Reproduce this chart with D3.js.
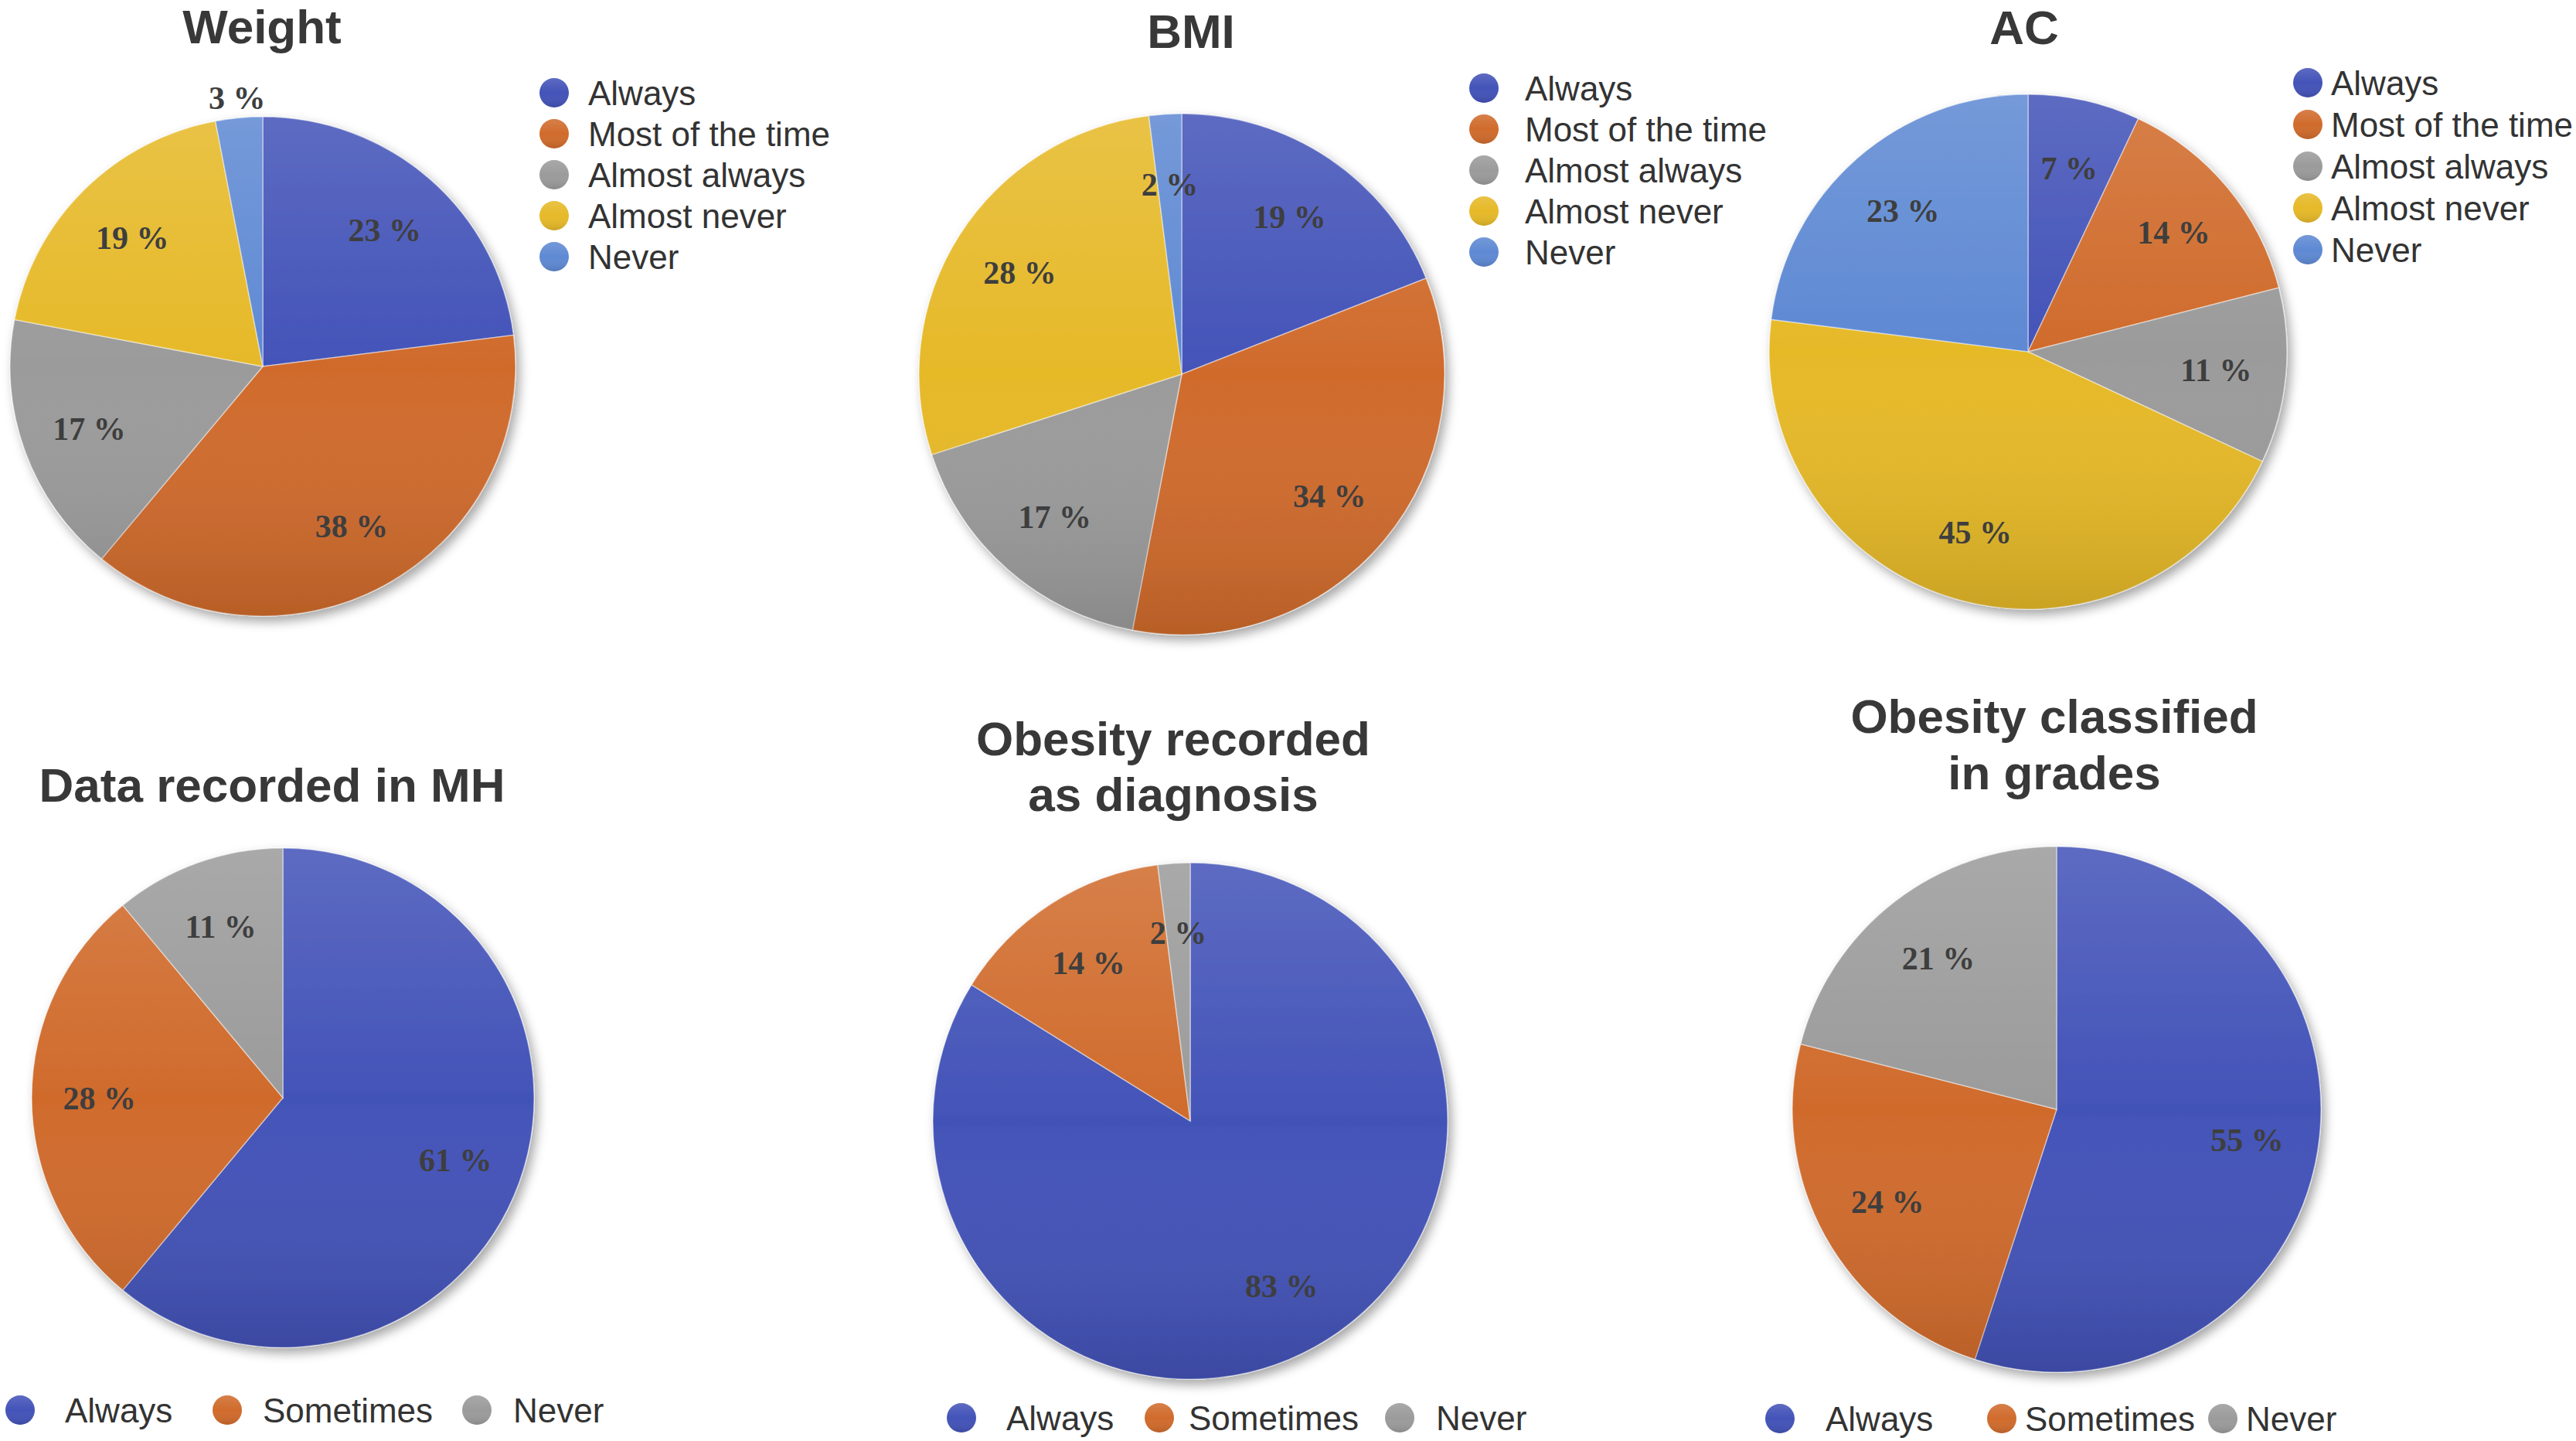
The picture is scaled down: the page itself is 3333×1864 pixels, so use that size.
<!DOCTYPE html>
<html>
<head>
<meta charset="utf-8">
<script src="https://cdn.jsdelivr.net/npm/d3@7"></script>
<style>
  body { margin: 0; background: #fff; }
</style>
</head>
<body>
<script>
// canvas size
const w = 3333;
const h = 1864;

// categories of the two kinds of legend
const fiveCategories = ['Always', 'Most of the time', 'Almost always', 'Almost never', 'Never'];
const threeCategories = ['Always', 'Sometimes', 'Never'];

// values (percent)
const weightValues = [23, 38, 17, 19, 3];
const bmiValues = [19, 34, 17, 28, 2];
const acValues = [7, 14, 11, 45, 23];
const mhValues = [61, 28, 11];
const diagnosisValues = [83, 14, 2];
const gradesValues = [55, 24, 21];

// colours
const fiveColors = ['#4353b8', '#d06b2c', '#9b9b9b', '#e6b928', '#5e89d3'];
const threeColors = ['#4353b8', '#d06b2c', '#9b9b9b'];

// layout of each pie (positions only, no data)
const charts = [
  { title: ['Weight'], tx: 339, ty: [56], values: weightValues, cats: fiveCategories, colors: fiveColors,
    cx: 340, cy: 474, rx: 327, ry: 323, outside: [4],
    legend: 'side', dotX: 717, textX: 761, legY: 120, step: 53 },
  { title: ['BMI'], tx: 1541, ty: [62], values: bmiValues, cats: fiveCategories, colors: fiveColors,
    cx: 1529, cy: 484, rx: 340, ry: 337, outside: [],
    legend: 'side', dotX: 1920, textX: 1973, legY: 114, step: 53 },
  { title: ['AC'], tx: 2619, ty: [57], values: acValues, cats: fiveCategories, colors: fiveColors,
    cx: 2624, cy: 455, rx: 335, ry: 333, outside: [],
    legend: 'side', dotX: 2986, textX: 3016, legY: 107, step: 54 },
  { title: ['Data recorded in MH'], tx: 352, ty: [1037], values: mhValues, cats: threeCategories, colors: threeColors,
    cx: 366, cy: 1420, rx: 325, ry: 323, outside: [],
    legend: 'bottom', dots: [26, 294, 617], texts: [84, 340, 664], legY: 1824 },
  { title: ['Obesity recorded', 'as diagnosis'], tx: 1518, ty: [977, 1049], values: diagnosisValues, cats: threeCategories, colors: threeColors,
    cx: 1540, cy: 1450, rx: 333, ry: 334, outside: [],
    legend: 'bottom', dots: [1244, 1500, 1811], texts: [1302, 1538, 1858], legY: 1834 },
  { title: ['Obesity classified', 'in grades'], tx: 2658, ty: [948, 1021], values: gradesValues, cats: threeCategories, colors: threeColors,
    cx: 2661, cy: 1435, rx: 342, ry: 340, outside: [],
    legend: 'bottom', dots: [2303, 2590, 2876], texts: [2362, 2620, 2906], legY: 1835 }
];

const svg = d3.select('body').append('svg')
              .attr('width', w)
              .attr('height', h);

// shadow and shading used by every pie
const defs = svg.append('defs');

const shadow = defs.append('filter')
                   .attr('id', 'shadow')
                   .attr('x', '-10%').attr('y', '-10%')
                   .attr('width', '125%').attr('height', '125%');
shadow.append('feDropShadow')
      .attr('dx', 5).attr('dy', 7)
      .attr('stdDeviation', 7)
      .attr('flood-color', '#000')
      .attr('flood-opacity', 0.35);

const shade = defs.append('linearGradient')
                  .attr('id', 'shade')
                  .attr('x1', 0).attr('y1', 0)
                  .attr('x2', 0).attr('y2', 1);
shade.append('stop').attr('offset', '0%').attr('stop-color', '#fff').attr('stop-opacity', 0.14);
shade.append('stop').attr('offset', '50%').attr('stop-color', '#fff').attr('stop-opacity', 0);
shade.append('stop').attr('offset', '100%').attr('stop-color', '#000').attr('stop-opacity', 0.12);

const pie = d3.pie().sort(null);

charts.forEach((c) => {
    // title
    c.title.forEach((line, i) => {
        svg.append('text')
           .attr('x', c.tx)
           .attr('y', c.ty[i])
           .attr('text-anchor', 'middle')
           .attr('font-family', 'Liberation Sans, Arial, sans-serif')
           .attr('font-weight', 'bold')
           .attr('font-size', 62)
           .attr('fill', '#383838')
           .text(line);
    });

    const g = svg.append('g')
                 .attr('transform', 'translate(' + c.cx + ',' + c.cy + ')');

    const pieG = g.append('g')
                  .attr('transform', 'scale(1,' + (c.ry / c.rx) + ')')
                  .attr('filter', 'url(#shadow)');

    const arc = d3.arc().innerRadius(0).outerRadius(c.rx);
    const arcs = pie(c.values);

    pieG.selectAll('path')
        .data(arcs)
        .join('path')
        .attr('d', arc)
        .attr('fill', (d, i) => c.colors[i])
        .attr('stroke', '#fff')
        .attr('stroke-opacity', 0.45)
        .attr('stroke-width', 1.5);

    pieG.append('circle')
        .attr('r', c.rx)
        .attr('fill', 'url(#shade)');

    // percent labels
    g.selectAll('text.label')
     .data(arcs)
     .join('text')
     .attr('class', 'label')
     .attr('transform', (d, i) => {
        const k = c.outside.includes(i) ? 1.08 : 0.73;
        const la = d3.arc().innerRadius(c.rx * k).outerRadius(c.rx * k);
        const p = la.centroid(d);
        return 'translate(' + p[0] + ',' + (p[1] * c.ry / c.rx) + ')';
     })
     .attr('text-anchor', 'middle')
     .attr('dy', '0.35em')
     .attr('font-family', 'Liberation Serif, Times New Roman, serif')
     .attr('font-weight', 'bold')
     .attr('font-size', 42)
     .attr('fill', '#3e3e3e')
     .text((d) => d.data + ' %');

    // legend
    c.cats.forEach((cat, i) => {
        let dx, tx, y;
        if (c.legend === 'side') {
            dx = c.dotX; tx = c.textX; y = c.legY + i * c.step;
        } else {
            dx = c.dots[i]; tx = c.texts[i]; y = c.legY;
        }
        svg.append('circle')
           .attr('cx', dx).attr('cy', y).attr('r', 19)
           .attr('fill', c.colors[i]);
        svg.append('circle')
           .attr('cx', dx).attr('cy', y).attr('r', 19)
           .attr('fill', 'url(#shade)');
        svg.append('text')
           .attr('x', tx)
           .attr('y', y)
           .attr('dy', '0.36em')
           .attr('font-family', 'Liberation Sans, Arial, sans-serif')
           .attr('font-size', 44)
           .attr('fill', '#333')
           .text(cat);
    });
});
</script>
</body>
</html>
